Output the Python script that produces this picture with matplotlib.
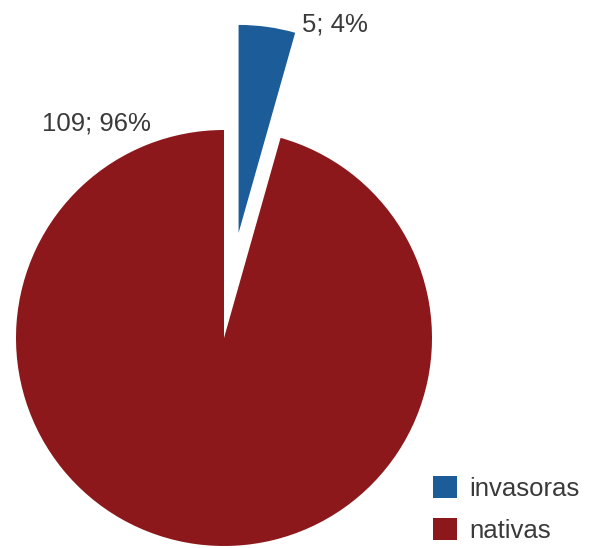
import matplotlib.pyplot as plt
import numpy as np

# data
categories = ['invasoras', 'nativas']
counts = [5, 109]
colors = ['#1c5d99', '#8c181b']

total = sum(counts)
pct = [round(100.0 * c / total) for c in counts]
labels = ['%d; %d%%' % (c, p) for c, p in zip(counts, pct)]

plt.rcParams['font.family'] = ['Liberation Sans', 'DejaVu Sans']

fig = plt.figure(figsize=(5.89, 5.48), dpi=100)
ax = fig.add_axes([0, 0, 1, 1])

wedges, _ = ax.pie(counts,
                   colors=colors,
                   startangle=90,
                   counterclock=False,
                   explode=[0.51, 0.0],
                   radius=1.0)

# pixel layout: centre at (224, 338) from top-left, radius 208 px
scale = 208.0
cx, cy = 224.0, 338.0
ax.set_aspect('auto')
ax.set_xlim(-cx / scale, (589 - cx) / scale)
ax.set_ylim(-(548 - cy) / scale, cy / scale)
ax.axis('off')

# value labels
ax.text(0.375, 1.505, labels[0], fontsize=18.5, color='#3a3a3a',
        ha='left', va='center')
ax.text(-0.615, 1.029, labels[1], fontsize=18.5, color='#3a3a3a',
        ha='center', va='center')

leg = ax.legend(wedges, categories,
                loc='upper left',
                bbox_to_anchor=(433 / 589, 1 - 476 / 548),
                frameon=False,
                fontsize=18.5,
                handlelength=0.93,
                handleheight=0.93,
                handletextpad=0.5,
                labelspacing=0.68,
                borderpad=0.0,
                borderaxespad=0.0)
for t in leg.get_texts():
    t.set_color('#3a3a3a')

plt.savefig('out.png', dpi=100)
